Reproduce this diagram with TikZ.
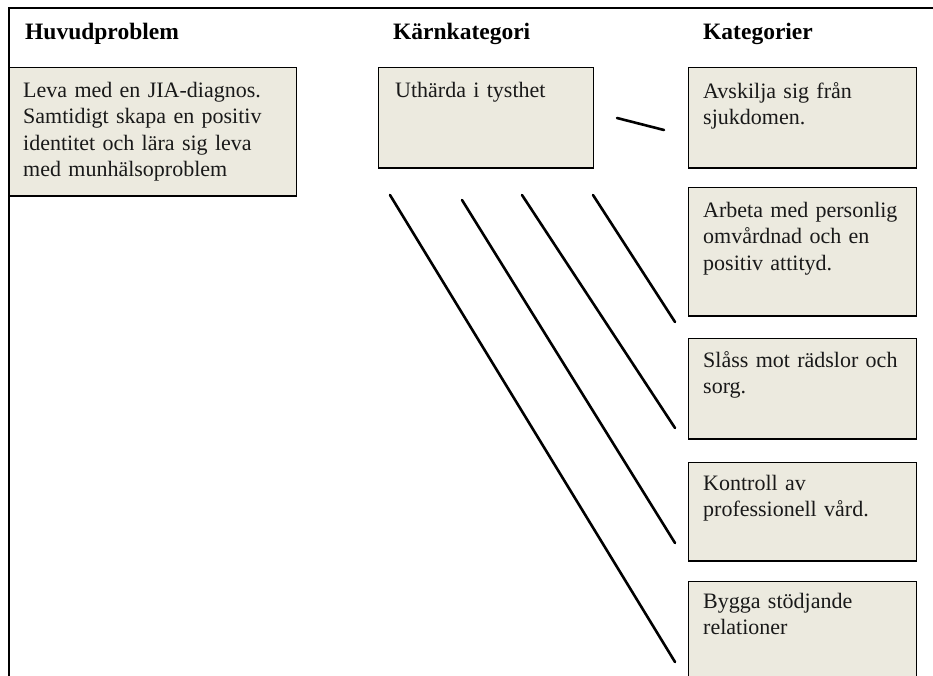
\documentclass[tikz,border=0pt]{standalone}
\usepackage{fontspec}
\setmainfont{Liberation Serif}
\definecolor{boxfill}{RGB}{236,234,223}
\tikzset{
  box/.style={draw, line width=1pt, fill=boxfill, anchor=north west, inner sep=0pt},
  boxtext/.style={anchor=base west, inner sep=0pt, align=left, text width=270pt, text=black!90,
    font=\fontsize{22}{26.5}\selectfont},
  heading/.style={anchor=base west, inner sep=0pt, font=\fontsize{23.5}{28}\selectfont\bfseries},
  stroke/.style={line width=2.6pt, line cap=round},
}

\begin{document}
\begin{tikzpicture}[x=1pt,y=-1pt]
        \useasboundingbox (0,0) rectangle (933,675);
        \clip (0,0) rectangle (933,675);
        \draw[line width=2.2pt] (9,676) -- (9,8) -- (934,8);
        %
        \node[heading] (hhuvud) at (25,39) {Huvudproblem};
        \node[heading] (hkarna) at (393,39) {Kärnkategori};
        \node[heading] (hkat) at (703,39) {Kategorier};
        %
        \node[box, minimum width=287pt, minimum height=128pt] (huvud) at (9,67) {};
        \draw[line width=2.5pt] (huvud.south west) -- (huvud.south east);
        \node[boxtext] (huvudtxt) at (23,97) {Leva med en JIA-diagnos.\\Samtidigt skapa en positiv\\identitet och lära sig leva\\med munhälsoproblem};
        %
        \node[box, minimum width=215pt, minimum height=100pt] (karna) at (378,67) {};
        \draw[line width=2.5pt] (karna.south west) -- (karna.south east);
        \node[boxtext] (karnatxt) at (395,97) {Uthärda i tysthet};
        %
        \node[box, minimum width=228pt, minimum height=100pt] (kat1) at (688,67) {};
        \draw[line width=2.5pt] (kat1.south west) -- (kat1.south east);
        \node[boxtext] (kat1txt) at (703,98) {Avskilja sig från\\sjukdomen.};
        \node[box, minimum width=228pt, minimum height=128pt] (kat2) at (688,187) {};
        \draw[line width=2.5pt] (kat2.south west) -- (kat2.south east);
        \node[boxtext] (kat2txt) at (703,217) {Arbeta med personlig\\omvårdnad och en\\positiv attityd.};
        \node[box, minimum width=228pt, minimum height=100pt] (kat3) at (688,338) {};
        \draw[line width=2.5pt] (kat3.south west) -- (kat3.south east);
        \node[boxtext] (kat3txt) at (703,367) {Slåss mot rädslor och\\sorg.};
        \node[box, minimum width=228pt, minimum height=98pt] (kat4) at (688,462) {};
        \draw[line width=2.5pt] (kat4.south west) -- (kat4.south east);
        \node[boxtext] (kat4txt) at (703,490) {Kontroll av\\professionell vård.};
        \node[box, minimum width=228pt, minimum height=110pt] (kat5) at (688,581) {};
        \node[boxtext] (kat5txt) at (703,608) {Bygga stödjande\\relationer};
        %
        \coordinate (s0a) at (617,118); \coordinate (s0b) at (664,130);
        \coordinate (s1a) at (390,195); \coordinate (s1b) at (675,662);
        \coordinate (s2a) at (462,200); \coordinate (s2b) at (675,543);
        \coordinate (s3a) at (522,195); \coordinate (s3b) at (675,428);
        \coordinate (s4a) at (593,195); \coordinate (s4b) at (675,322);
        \draw[stroke] (s0a) -- (s0b);
        \draw[stroke] (s1a) -- (s1b);
        \draw[stroke] (s2a) -- (s2b);
        \draw[stroke] (s3a) -- (s3b);
        \draw[stroke] (s4a) -- (s4b);
    \end{tikzpicture}
\end{document}
